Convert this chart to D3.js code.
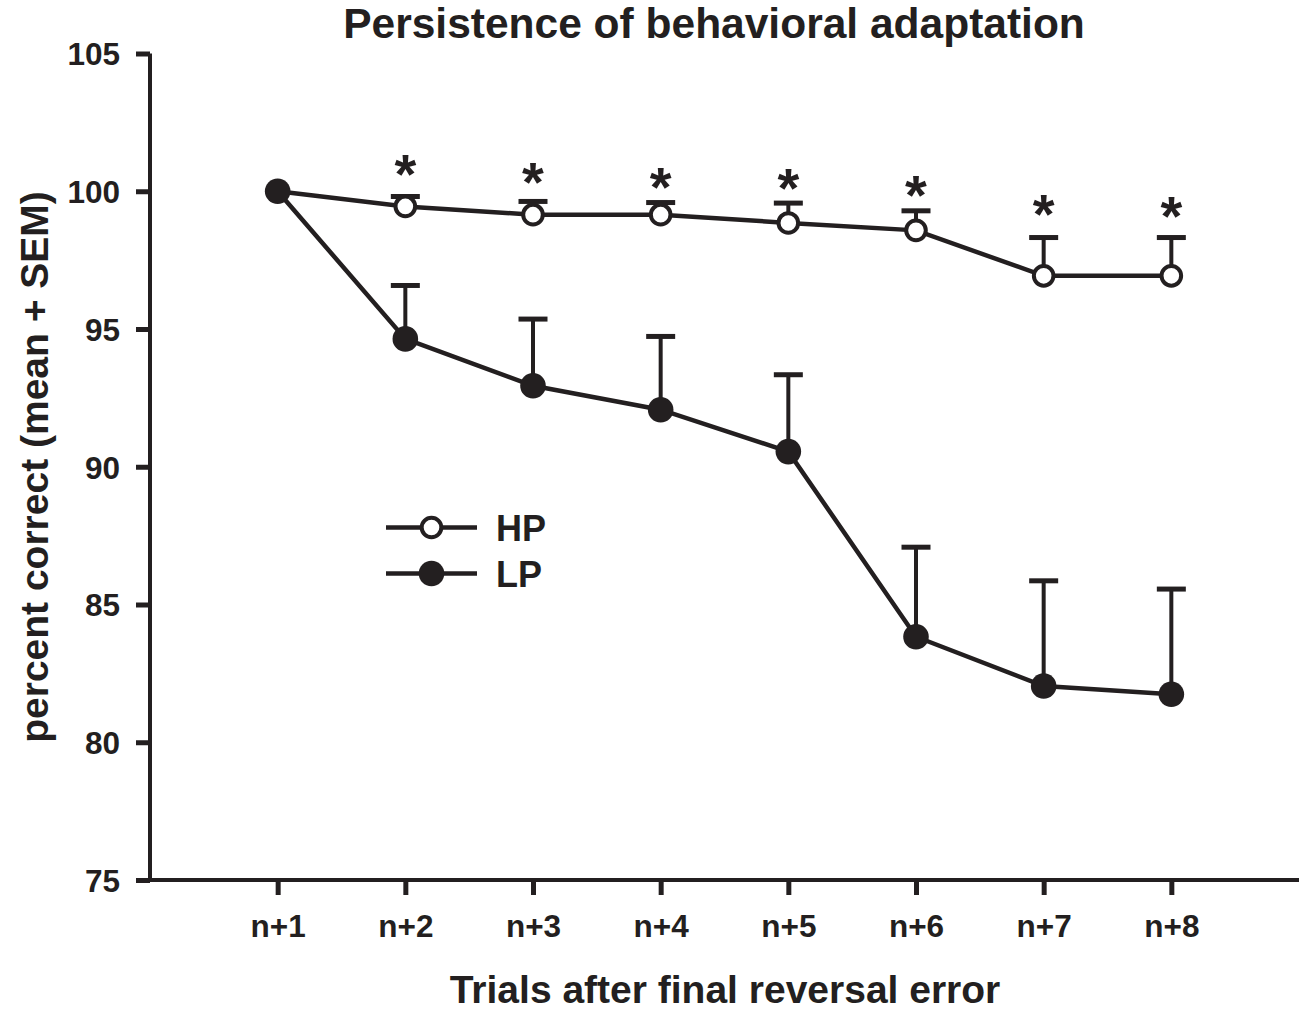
<!DOCTYPE html>
<html>
<head>
<meta charset="utf-8">
<script src="https://cdn.jsdelivr.net/npm/d3@7"></script>
<style>
  html, body { margin: 0; padding: 0; background: #fff; }
  svg { display: block; }
  text { font-family: "Liberation Sans", Arial, Helvetica, sans-serif; font-weight: bold; fill: #231f20; }
</style>
</head>
<body>
<svg id="chart" width="1306" height="1015"></svg>
<script>
// ---- data ----
const categories = ["n+1", "n+2", "n+3", "n+4", "n+5", "n+6", "n+7", "n+8"];
const hpMean = [100, 99.45, 99.15, 99.15, 98.85, 98.58, 96.93, 96.93];
const hpSEM  = [0, 0.36, 0.48, 0.44, 0.72, 0.71, 1.39, 1.39];
const lpMean = [100, 94.64, 92.94, 92.07, 90.55, 83.83, 82.04, 81.74];
const lpSEM  = [0, 1.94, 2.42, 2.66, 2.79, 3.25, 3.82, 3.82];
const starLevel = [null, 101.09, 100.78, 100.6, 100.55, 100.31, 99.63, 99.56];
const yTicks = [75, 80, 85, 90, 95, 100, 105];
const seriesNames = ["HP", "LP"];
const title = "Persistence of behavioral adaptation";
const xTitle = "Trials after final reversal error";
const yTitle = "percent correct (mean + SEM)";

// ---- layout ----
const ink = "#231f20";
const svg = d3.select("#chart");
const x = d3.scaleLinear().domain([0, 9]).range([150, 1299]);
const y = d3.scaleLinear().domain([75, 105]).range([880, 53.5]);
const xi = i => x(i + 1);

// axes
const yAxis = d3.axisLeft(y).tickValues(yTicks).tickSize(14).tickPadding(16).tickSizeOuter(0);
const gy = svg.append("g").attr("transform", `translate(${x(0)},0)`).call(yAxis);
gy.select(".domain").attr("stroke", ink).attr("stroke-width", 4)
  .attr("d", `M0,${y(105)}V${y(75)}`);
gy.selectAll(".tick line").attr("stroke", ink).attr("stroke-width", 5);
gy.selectAll(".tick text").attr("font-size", 31.5).attr("fill", ink).attr("dy", "0.36em")
  .style("font-family", '"Liberation Sans", Arial, sans-serif').style("font-weight", "bold");

const xAxis = d3.axisBottom(x).tickValues(d3.range(1, 9)).tickFormat(d => categories[d - 1])
  .tickSize(15).tickPadding(20).tickSizeOuter(0);
const gx = svg.append("g").attr("transform", `translate(0,${y(75)})`).call(xAxis);
gx.select(".domain").attr("stroke", ink).attr("stroke-width", 4)
  .attr("d", `M${x(0) - 2},0H${x(9)}`);
gx.selectAll(".tick line").attr("stroke", ink).attr("stroke-width", 5);
gx.selectAll(".tick text").attr("font-size", 31.5).attr("fill", ink)
  .style("font-family", '"Liberation Sans", Arial, sans-serif').style("font-weight", "bold");

// titles
svg.append("text").attr("x", 714).attr("y", 38).attr("text-anchor", "middle")
  .attr("font-size", 42.5).text(title);
svg.append("text").attr("x", 725).attr("y", 1003).attr("text-anchor", "middle")
  .attr("font-size", 39).text(xTitle);
svg.append("text").attr("transform", `translate(48,467) rotate(-90)`).attr("text-anchor", "middle")
  .attr("font-size", 39).text(yTitle);

// lines
const line = d3.line().x((d, i) => xi(i)).y(d => y(d));
svg.append("path").datum(hpMean).attr("d", line).attr("fill", "none")
  .attr("stroke", ink).attr("stroke-width", 4.5);
svg.append("path").datum(lpMean).attr("d", line).attr("fill", "none")
  .attr("stroke", ink).attr("stroke-width", 4.5);

// error bars (mean + SEM)
function errBars(mean, sem) {
  const g = svg.append("g");
  mean.forEach((m, i) => {
    if (!sem[i]) return;
    g.append("line").attr("x1", xi(i)).attr("x2", xi(i)).attr("y1", y(m)).attr("y2", y(m + sem[i]))
      .attr("stroke", ink).attr("stroke-width", 4);
    g.append("line").attr("x1", xi(i) - 14.5).attr("x2", xi(i) + 14.5)
      .attr("y1", y(m + sem[i])).attr("y2", y(m + sem[i]))
      .attr("stroke", ink).attr("stroke-width", 5);
  });
}
errBars(hpMean, hpSEM);
errBars(lpMean, lpSEM);

// markers
svg.append("g").selectAll("circle").data(hpMean).join("circle")
  .attr("cx", (d, i) => xi(i)).attr("cy", d => y(d)).attr("r", 9.8)
  .attr("fill", "#fff").attr("stroke", ink).attr("stroke-width", 4);
svg.append("g").selectAll("circle").data(lpMean).join("circle")
  .attr("cx", (d, i) => xi(i)).attr("cy", d => y(d)).attr("r", 12.8)
  .attr("fill", ink);

// significance stars
const starFs = 56;
const starData = starLevel.map((v, i) => ({ v, i })).filter(d => d.v !== null);
svg.append("g").selectAll("text").data(starData).join("text")
  .attr("x", d => xi(d.i))
  .attr("y", d => y(d.v) + 0.56 * starFs)
  .attr("text-anchor", "middle").attr("font-size", starFs).text("*");

// legend
const legend = svg.append("g");
const legY = [527.5, 573.5];
seriesNames.forEach((name, k) => {
  const gy0 = legY[k];
  legend.append("line").attr("x1", 386).attr("x2", 477).attr("y1", gy0).attr("y2", gy0)
    .attr("stroke", ink).attr("stroke-width", 4.5);
  if (k === 0) {
    legend.append("circle").attr("cx", 431.5).attr("cy", gy0).attr("r", 9.8)
      .attr("fill", "#fff").attr("stroke", ink).attr("stroke-width", 4);
  } else {
    legend.append("circle").attr("cx", 431.5).attr("cy", gy0).attr("r", 12.8).attr("fill", ink);
  }
  legend.append("text").attr("x", 496).attr("y", gy0 + 13.5).attr("font-size", 36).text(name);
});
</script>
</body>
</html>
